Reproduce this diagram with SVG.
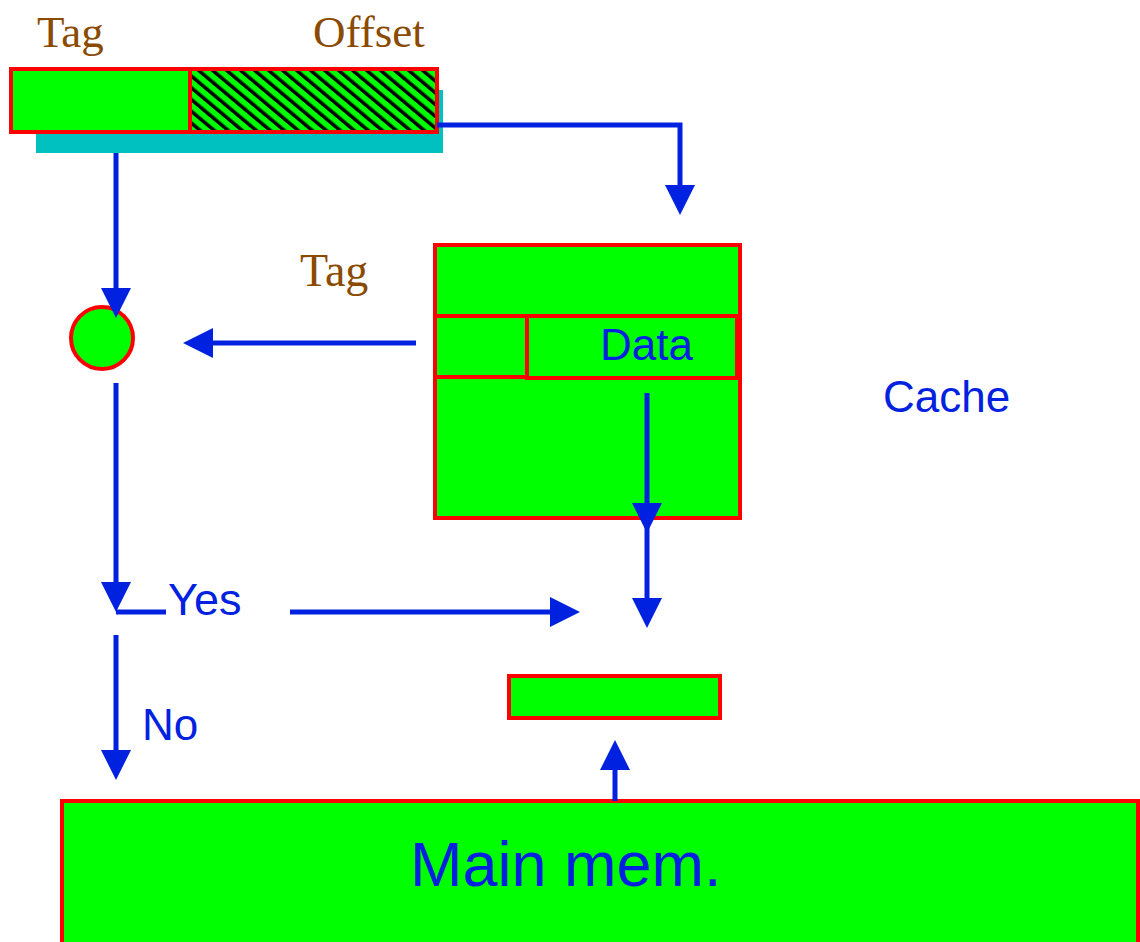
<svg xmlns="http://www.w3.org/2000/svg" width="1140" height="942" viewBox="0 0 1140 942">
<style>
.box{fill:#00ff00;stroke:#ff0000;stroke-width:4}
.ln{stroke:#0022e0;stroke-width:5;fill:none}
.serif{font-family:"Liberation Serif",serif;font-size:45px;fill:#8a4a00}
.sans{font-family:"Liberation Sans",sans-serif;font-size:44px;fill:#0022e0}
</style>
<defs>
<pattern id="hatch" patternUnits="userSpaceOnUse" width="9" height="9" patternTransform="rotate(-50)">
<rect width="9" height="9" fill="#00ff00"/>
<rect x="0" y="0" width="3.5" height="9" fill="#000000"/>
</pattern>
<marker id="ah" markerWidth="30" markerHeight="30" refX="22" refY="15" orient="auto" markerUnits="userSpaceOnUse">
<path d="M0,0 L30,15 L0,30 Z" fill="#0022e0"/>
</marker>
</defs>

<g id="labels">
<text class="serif" x="37" y="47">Tag</text>
<text class="serif" x="313" y="47">Offset</text>
<text class="serif" x="300" y="286" style="font-size:46px">Tag</text>
<text class="sans" x="883" y="412">Cache</text>
<text class="sans" x="168" y="615" style="font-size:45px">Yes</text>
<text class="sans" x="142" y="740">No</text>
</g>

<g id="address">
<rect x="36" y="90" width="407" height="63" fill="#00c0c0"/>
<rect class="box" x="11" y="69" width="179" height="63"/>
<rect x="190" y="69" width="247" height="63" fill="url(#hatch)" stroke="#ff0000" stroke-width="4"/>
</g>

<g id="comparator">
<ellipse class="box" cx="102" cy="338" rx="31" ry="31"/>
</g>

<g id="cache">
<rect class="box" x="435" y="245" width="305" height="273"/>
<rect class="box" x="435" y="316" width="92" height="61"/>
<rect class="box" x="527" y="316" width="210" height="62"/>
<text class="sans" x="600" y="360">Data</text>
</g>

<g id="buffer">
<rect class="box" x="509" y="676" width="211" height="42"/>
</g>

<g id="mainmem">
<rect class="box" x="62" y="801" width="1076" height="150"/>
<text class="sans" x="410" y="886" style="font-size:63px">Main mem.</text>
</g>

<g id="connectors">
<path class="ln" d="M437,125 H680 V207" marker-end="url(#ah)"/>
<path class="ln" d="M116,153 V310" marker-end="url(#ah)"/>
<path class="ln" d="M416,343 H191" marker-end="url(#ah)"/>
<path class="ln" d="M116,383 V604" marker-end="url(#ah)"/>
<path class="ln" d="M116,612 H166"/>
<path class="ln" d="M290,612 H572" marker-end="url(#ah)"/>
<path class="ln" d="M647,393 V525" marker-end="url(#ah)"/>
<path class="ln" d="M647,520 V620" marker-end="url(#ah)"/>
<path class="ln" d="M116,635 V772" marker-end="url(#ah)"/>
<path class="ln" d="M615,801 V748" marker-end="url(#ah)"/>
</g>
</svg>
